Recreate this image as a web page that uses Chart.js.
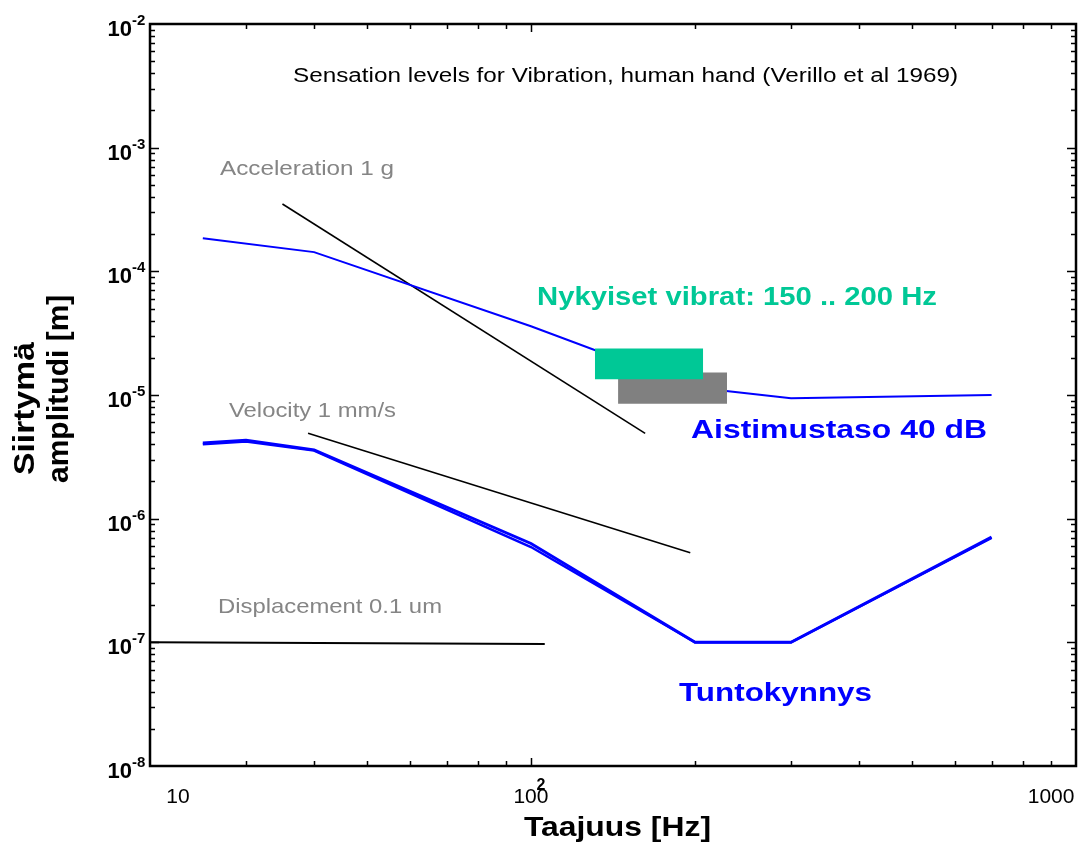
<!DOCTYPE html>
<html lang="fi">
<head>
<meta charset="UTF-8">
<title>Sensation levels for Vibration</title>
<script src="https://cdn.jsdelivr.net/npm/chart.js"></script>
<style>
  html, body { margin: 0; padding: 0; background: #fff; }
  #wrap { width: 1083px; height: 844px; }
</style>
</head>
<body>
<div id="wrap"><canvas id="chart" width="1083" height="844"></canvas></div>
<script>
  // frequency in Hz, displacement amplitude in m
  const thresholdFreq = [25, 30, 40, 100, 200, 300, 700];
  const thresholdAmp  = [4.1e-6, 4.3e-6, 3.6e-6, 6.3e-7, 1.0e-7, 1.0e-7, 7.1e-7];
  const thresholdAmp2 = [4.0e-6, 4.2e-6, 3.55e-6, 5.9e-7, 1.0e-7, 1.0e-7, 7.0e-7];
  const sensationFreq = [25, 40, 100, 200, 300, 700];
  const sensationAmp  = [1.85e-4, 1.43e-4, 3.6e-5, 1.15e-5, 9.4e-6, 1.0e-5];
  const accelFreq = [35, 162];
  const accelAmp  = [3.5e-4, 4.9e-6];
  const velocityFreq = [39, 196];
  const velocityAmp  = [4.9e-6, 5.3e-7];
  const displFreq = [20, 106];
  const displAmp  = [1.0e-7, 9.7e-8];
  // boxes: [top, bottom]
  const vibratorFreq = [131, 207];
  const vibratorAmp  = [2.38e-5, 1.34e-5];
  const levelFreq = [144.5, 229];
  const levelAmp  = [1.52e-5, 8.5e-6];

  // x labels sit where the original figure put them
  const xTickValues = [22.5, 100, 900];
  const xTickLabels = ['10', '100', '1000'];
  const xTickExp    = ['', '2', ''];
  const yDecades = [-8, -7, -6, -5, -4, -3, -2];

  const BLUE = '#0000ff';
  const GREEN = '#00c896';
  const GRAY_TXT = '#858585';
  const FONT = '"Liberation Sans", Arial, sans-serif';

  function pts(xs, ys) {
    return xs.map((x, i) => ({ x: x, y: ys[i] }));
  }

  function line(xs, ys, color, width) {
    return {
      data: pts(xs, ys), showLine: true, borderColor: color, borderWidth: width,
      pointRadius: 0, fill: false, order: 2
    };
  }

  function box(xs, ys, color, order) {
    return {
      data: pts(xs, [ys[0], ys[0]]), showLine: true, borderWidth: 0, borderColor: color,
      backgroundColor: color, pointRadius: 0, fill: { value: ys[1] }, order: order
    };
  }

  const datasets = [
    box(vibratorFreq, vibratorAmp, GREEN, 0),
    box(levelFreq, levelAmp, '#808080', 1),
    line(sensationFreq, sensationAmp, BLUE, 2),
    line(thresholdFreq, thresholdAmp, BLUE, 3),
    line(thresholdFreq, thresholdAmp2, BLUE, 2.5),
    line(accelFreq, accelAmp, '#000', 1.6),
    line(velocityFreq, velocityAmp, '#000', 1.6),
    line(displFreq, displAmp, '#000', 2)
  ];

  const notes = [
    { text: 'Sensation levels for Vibration, human hand (Verillo et al 1969)', x: 293, y: 82, font: '20px ' + FONT, color: '#000', width: 665 },
    { text: 'Acceleration 1 g', x: 220, y: 175, font: '21px ' + FONT, color: GRAY_TXT, width: 174 },
    { text: 'Velocity 1 mm/s', x: 229, y: 417, font: '21px ' + FONT, color: GRAY_TXT, width: 167 },
    { text: 'Displacement 0.1 um', x: 218, y: 613, font: '21px ' + FONT, color: GRAY_TXT, width: 224 },
    { text: 'Nykyiset vibrat: 150 .. 200 Hz', x: 537, y: 305, font: 'bold 26px ' + FONT, color: GREEN, width: 400 },
    { text: 'Aistimustaso 40 dB', x: 691, y: 438, font: 'bold 26px ' + FONT, color: BLUE, width: 296 },
    { text: 'Tuntokynnys', x: 679, y: 701, font: 'bold 26px ' + FONT, color: BLUE, width: 193 },
    { text: 'Taajuus [Hz]', x: 524, y: 836, font: 'bold 28px ' + FONT, color: '#000', width: 187 },
    { text: 'Siirtymä', x: 34, y: 475, font: 'bold 30px ' + FONT, color: '#000', width: 133, rotate: -Math.PI / 2 },
    { text: 'amplitudi [m]', x: 68, y: 483, font: 'bold 30px ' + FONT, color: '#000', rotate: -Math.PI / 2 }
  ];

  function drawNote(ctx, n) {
    ctx.save();
    ctx.font = n.font;
    ctx.fillStyle = n.color;
    ctx.textAlign = 'left';
    ctx.textBaseline = 'alphabetic';
    const w = ctx.measureText(n.text).width;
    ctx.translate(n.x, n.y);
    if (n.rotate) ctx.rotate(n.rotate);
    ctx.scale(n.width ? n.width / w : 1, 1);
    ctx.fillText(n.text, 0, 0);
    ctx.restore();
  }

  const framePlugin = {
    id: 'frame',
    afterDraw(chart) {
      const ctx = chart.ctx;
      const a = chart.chartArea;
      const xs = chart.scales.x;
      const ys = chart.scales.y;
      ctx.save();
      ctx.strokeStyle = '#000';
      ctx.lineWidth = 1.5;
      ctx.beginPath();
      // ticks on x, inside, top and bottom
      for (let d = 10; d <= 1000; d *= 10) {
        for (let m = 1; m < 10; m++) {
          const v = d * m;
          if (v <= 20 || v >= 1000) continue;
          const px = Math.round(xs.getPixelForValue(v)) + 0.5;
          const len = m === 1 ? 8 : 5;
          ctx.moveTo(px, a.bottom); ctx.lineTo(px, a.bottom - len);
          ctx.moveTo(px, a.top); ctx.lineTo(px, a.top + len);
        }
      }
      // ticks on y, inside, left and right
      for (let e = -8; e < -2; e++) {
        for (let m = 1; m < 10; m++) {
          if (e === -8 && m === 1) continue;
          const py = Math.round(ys.getPixelForValue(m * Math.pow(10, e))) + 0.5;
          const len = m === 1 ? 9 : 5;
          ctx.moveTo(a.left, py); ctx.lineTo(a.left + len, py);
          ctx.moveTo(a.right, py); ctx.lineTo(a.right - len, py);
        }
      }
      ctx.stroke();

      ctx.lineWidth = 2.5;
      ctx.strokeRect(a.left, a.top, a.right - a.left, a.bottom - a.top);

      // y labels 10^e
      ctx.fillStyle = '#000';
      ctx.textBaseline = 'alphabetic';
      yDecades.forEach(e => {
        const py = ys.getPixelForValue(Math.pow(10, e));
        ctx.font = 'bold 22px ' + FONT;
        ctx.textAlign = 'right';
        ctx.fillText('10', 132, py + 12);
        ctx.font = 'bold 15px ' + FONT;
        ctx.textAlign = 'left';
        ctx.fillText('-' + (-e), 132, py + 1);
      });

      // x labels
      xTickValues.forEach((v, i) => {
        const px = xs.getPixelForValue(v);
        ctx.font = '21px ' + FONT;
        ctx.textAlign = 'center';
        ctx.fillText(xTickLabels[i], px, a.bottom + 37);
        if (xTickExp[i]) {
          ctx.font = 'bold 16px ' + FONT;
          ctx.fillText(xTickExp[i], px + 10, a.bottom + 24);
        }
      });
      ctx.restore();

      notes.forEach(n => drawNote(ctx, n));
    }
  };

  new Chart(document.getElementById('chart').getContext('2d'), {
    type: 'scatter',
    data: { datasets: datasets },
    options: {
      responsive: false,
      animation: false,
      layout: { padding: { left: 150, right: 7, top: 24, bottom: 78 } },
      plugins: { legend: { display: false }, tooltip: { enabled: false } },
      scales: {
        x: { type: 'logarithmic', min: 20, max: 1000, display: false },
        y: { type: 'logarithmic', min: 1e-8, max: 1e-2, display: false }
      }
    },
    plugins: [framePlugin]
  });
</script>
</body>
</html>
